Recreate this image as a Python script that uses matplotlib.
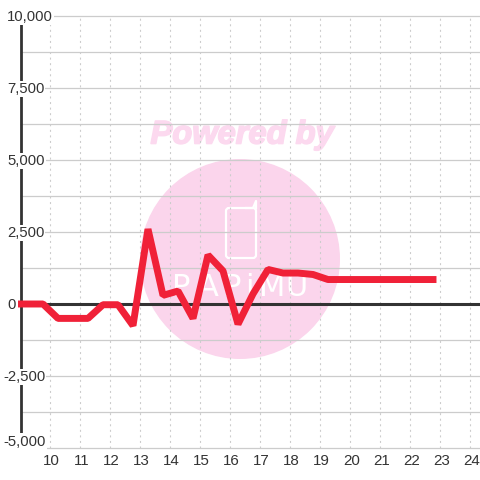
import matplotlib
matplotlib.use('Agg')
import matplotlib.pyplot as plt
import matplotlib.patheffects as pe
from matplotlib.patches import Circle, FancyBboxPatch

plt.rcParams['font.family'] = ['Liberation Sans', 'DejaVu Sans']

# half hour readings
hours = [8.75, 9.25, 9.75, 10.25, 10.75, 11.25, 11.75, 12.25, 12.75, 13.25, 13.75, 14.25,
         14.75, 15.25, 15.75, 16.25, 16.75, 17.25, 17.75, 18.25, 18.75, 19.25, 19.75,
         20.25, 20.75, 21.25, 21.75, 22.25, 22.75]
values = [0, 0, 0, -500, -500, -500, -25, -25, -750, 2600, 300, 450,
          -500, 1700, 1150, -700, 350, 1200, 1075, 1075, 1025, 850, 850,
          850, 850, 850, 850, 850, 850]
y_ticks = [10000, 7500, 5000, 2500, 0, -2500, -5000]
y_labels = ['10,000', '7,500', '5,000', '2,500', '0', '-2,500', '-5,000']
y_minor = [8750, 6250, 3750, 1250, -1250, -3750]
x_ticks = list(range(10, 25))

DARK = '#333333'
GRID = '#cccccc'
RED = '#f02138'
PINK = '#fbd5ec'

fig = plt.figure(figsize=(4.8, 4.8), dpi=100)
fig.patch.set_facecolor('white')

# watermark goes underneath, in pixel coordinates
bg = fig.add_axes([0, 0, 1, 1])
bg.set_xlim(0, 480)
bg.set_ylim(480, 0)
bg.axis('off')
bg.add_patch(Circle((240, 259), 100, fc=PINK, ec='none'))
bg.text(242, 135, 'Powered by', fontsize=23.5, fontweight='bold', fontstyle='italic',
        color='#fcd9ef', ha='center', va='center',
        path_effects=[pe.withStroke(linewidth=1.2, foreground='#fcd9ef')])
bg.add_patch(FancyBboxPatch((226, 208), 30, 50, boxstyle='round,pad=0,rounding_size=3',
                            fc='none', ec='white', lw=1.6))
bg.plot([246, 253, 256, 256], [208, 208, 201, 208], color='white', lw=1.6)
for letter, lx in zip('PAPiMU', [181, 208, 232, 249, 272, 296]):
    bg.text(lx, 287, letter, fontsize=22, color='white', ha='center', va='center',
            family='DejaVu Sans')

# main axes px 18..480 and px 10..454
px_y = 15000 / 432
ax = fig.add_axes([18 / 480, (480 - 454) / 480, 462 / 480, 444 / 480])
ax.patch.set_alpha(0)
ax.set_xlim(10 - 32.5 / 30, 10 + 429.5 / 30)
ax.set_ylim(-5000 - 6 * px_y, 10000 + 6 * px_y)
ax.axis('off')

ax.hlines(y_ticks + y_minor, 9, 25, color=GRID, lw=0.9, zorder=1)
ax.vlines(x_ticks, -5000, 10000, color=GRID, lw=0.8, linestyles=(0, (1.8, 3.2)), zorder=1)
ax.vlines(9.03, -5000, 9720, color=DARK, lw=2.0, zorder=2)
ax.hlines(0, 9, 25, color=DARK, lw=2.2, zorder=2)

ax.plot(hours, values, color=RED, lw=5.0, solid_joinstyle='bevel',
        solid_capstyle='projecting', zorder=4)

# y labels sit on white boxes that cut the grid and the axis
for val, lab in zip(y_ticks, y_labels):
    left = 8.55 if val >= 0 else 8.42
    y = val - px_y if val != -5000 else val + 6.5 * px_y
    ax.text(left, y, lab, fontsize=10.7, color=DARK, ha='left', va='center', clip_on=False,
            zorder=3, bbox=dict(fc='white', ec='none', pad=0.8))
for x in x_ticks:
    ax.text(x + 0.03, -5000 - 13 * px_y, str(x), fontsize=10.9, color=DARK, ha='center',
            va='center', clip_on=False, zorder=3)

fig.savefig('out.png', dpi=100)
